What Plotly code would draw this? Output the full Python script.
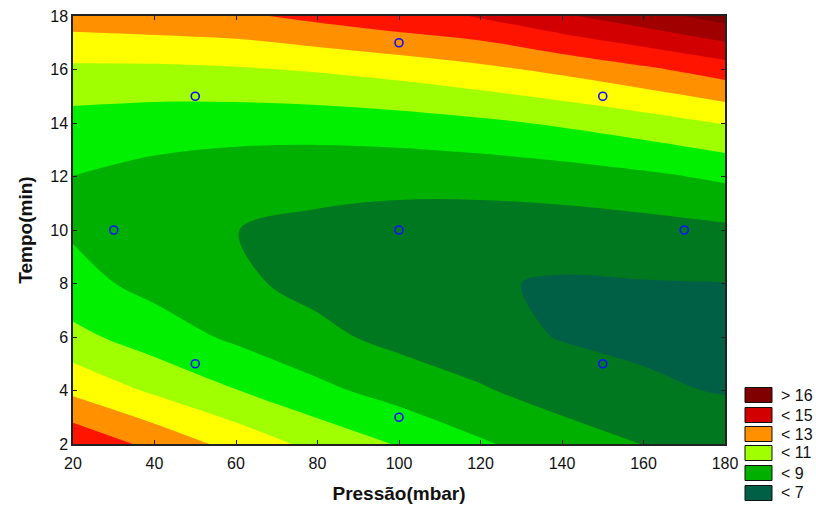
import plotly.graph_objects as go

# ---- data ----
pressao = [20, 40, 60, 80, 100, 120, 140, 160, 180]          # x grid (mbar)
tempo = [2, 4, 6, 8, 10, 12, 14, 16, 18]                      # y grid (min)
# estimated response on the grid (rows = tempo, cols = pressao)
resp_t02 = [13.80, 12.71, 11.65, 10.70, 9.93, 9.12, 8.50, 7.98, 7.65]
resp_t04 = [11.78, 10.84, 10.03, 9.25, 8.60, 8.10, 7.55, 7.15, 6.94]
resp_t06 = [10.28, 9.50, 8.82, 8.23, 7.73, 7.33, 6.95, 6.82, 6.70]
resp_t08 = [9.32, 8.70, 8.17, 7.73, 7.39, 7.10, 6.90, 6.95, 6.98]
resp_t10 = [8.89, 8.43, 8.01, 7.77, 7.59, 7.50, 7.51, 7.62, 7.81]
resp_t12 = [8.99, 8.69, 8.47, 8.35, 8.32, 8.39, 8.55, 8.81, 9.17]
resp_t14 = [9.63, 9.48, 9.42, 9.45, 9.58, 9.81, 10.13, 10.54, 11.05]
resp_t16 = [10.80, 10.80, 10.90, 11.09, 11.37, 11.76, 12.23, 12.81, 13.47]
resp_t18 = [12.50, 12.66, 12.82, 13.26, 13.70, 14.05, 14.87, 15.60, 16.42]
z = [resp_t02, resp_t04, resp_t06, resp_t08, resp_t10,
     resp_t12, resp_t14, resp_t16, resp_t18]

# experimental design points
pts_pressao = [30, 50, 50, 100, 100, 100, 150, 150, 170]
pts_tempo = [10, 5, 15, 3, 10, 17, 5, 15, 10]

# contour levels and band colours (low -> high)
level_start, level_end, level_step = 7, 16, 1
band_colors = ["#006045", "#007820", "#00b000", "#00f000", "#a0ff00",
               "#ffff00", "#ff9000", "#ff1400", "#d20000", "#a00000", "#800000"]

# legend entries (label, colour)
legend_labels = ["> 16", "< 15", "< 13", "< 11", "< 9", "< 7"]
legend_colors = ["#800000", "#d20000", "#ff9000", "#a0ff00", "#00b000", "#006045"]

# ---- build figure ----
n = len(band_colors)
colorscale = []
for i, c in enumerate(band_colors):
    colorscale.append([i / n, c])
    colorscale.append([(i + 1) / n, c])

fig = go.Figure()
fig.add_trace(go.Contour(
    x=pressao, y=tempo, z=z,
    contours=dict(start=level_start, end=level_end, size=level_step,
                  coloring="fill", showlines=False),
    colorscale=colorscale, showscale=False,
    line=dict(width=0, smoothing=1),
    hoverinfo="skip",
))
fig.add_trace(go.Scatter(
    x=pts_pressao, y=pts_tempo, mode="markers",
    marker=dict(symbol="circle-open", size=8, color="#1010ff",
                line=dict(width=1.6, color="#1010ff")),
    showlegend=False, hoverinfo="skip",
))

W, H = 816, 506
L, R, T, B = 73, 91, 16, 62
pw, ph = W - L - R, H - T - B


def px_x(px):
    return (px - L) / pw


def px_y(py):
    return (H - B - py) / ph


shapes = []
annotations = []
row_centers = [395, 415, 434, 453, 473, 493]
for lab, col, cy in zip(legend_labels, legend_colors, row_centers):
    shapes.append(dict(type="rect", xref="paper", yref="paper",
                       x0=px_x(745), x1=px_x(772),
                       y0=px_y(cy + 7.5), y1=px_y(cy - 7.5),
                       fillcolor=col, line=dict(color="#111", width=1)))
    annotations.append(dict(xref="paper", yref="paper", x=px_x(779), y=px_y(cy),
                            text=lab, showarrow=False, xanchor="left",
                            yanchor="middle",
                            font=dict(size=16, color="#111",
                                      family="Liberation Sans, Arial")))

axis_common = dict(showline=True, linecolor="#222", linewidth=1.5, mirror="ticks",
                   ticks="inside", ticklen=4, tickcolor="#222", tickwidth=1,
                   showgrid=False, zeroline=False, automargin=False,
                   tickfont=dict(size=16, color="#111", family="Liberation Sans, Arial"))

fig.update_layout(
    width=W, height=H,
    margin=dict(l=L, r=R, t=T, b=B, autoexpand=False),
    paper_bgcolor="white", plot_bgcolor="white",
    xaxis=dict(range=[20, 180], tickvals=pressao, ticklabelstandoff=4, **axis_common,
               title=dict(text="<b>Pressão(mbar)</b>", standoff=16,
                          font=dict(size=19, color="#111",
                                    family="Liberation Sans, Arial"))),
    yaxis=dict(range=[2, 18], tickvals=tempo, **axis_common,
               title=dict(text="<b>Tempo(min)</b>", standoff=13,
                          font=dict(size=19, color="#111",
                                    family="Liberation Sans, Arial"))),
    shapes=shapes,
    annotations=annotations,
    showlegend=False,
)

fig.write_html("out.html", config={"displayModeBar": False},
               post_script="document.body.style.margin='0';document.body.style.padding='0';")
